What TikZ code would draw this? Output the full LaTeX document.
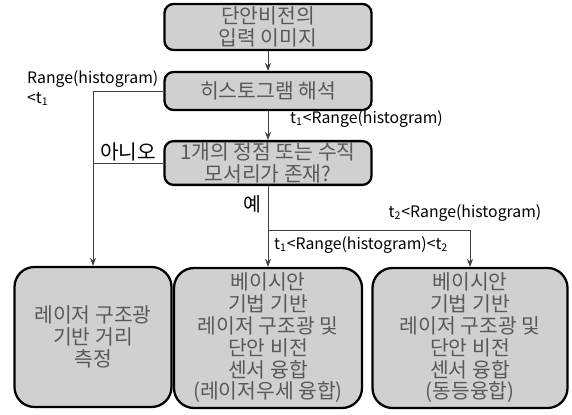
\documentclass[tikz,border=0pt]{standalone}
\usepackage{fontspec}
\setmainfont{Noto Sans CJK KR}
\usetikzlibrary{positioning,arrows.meta}
\definecolor{cbox}{RGB}{208,208,208}

\begin{document}
\begin{tikzpicture}[x=0.2mm,y=-0.2mm,font=\fontsize{11.6}{12.4}\selectfont,
  proc/.style={draw,line width=1.3pt,rounded corners=1.8mm,fill=cbox,text=black!65,align=center,minimum width=41.4mm,inner sep=1pt},
  res/.style={draw,line width=1.3pt,rounded corners=4mm,fill=cbox,text=black!65,align=center,minimum height=28mm,inner sep=1pt},
  flow/.style={-{Stealth[length=1.6mm,width=1.2mm]},black!75,thin},
  lbl/.style={font=\fontsize{9}{11}\selectfont,inner sep=1pt},
]
\useasboundingbox (0,0) rectangle (572,415);
\node[proc,minimum height=9.2mm] (input) at (268,27) {단안비전의\\입력 이미지};
\node[proc,minimum height=7.6mm] (hist) at (268,91) {히스토그램 해석};
\node[proc,minimum height=8.6mm] (vertex) at (268,163) {1개의 정점 또는 수직\\모서리가 존재?};
\node[res,minimum width=31.4mm] (laser) at (93,337) {레이저 구조광\\기반 거리\\측정};
\node[res,minimum width=37.6mm] (fuseA) at (268,338) {베이시안\\기법 기반\\레이저 구조광 및\\단안 비전\\센서 융합\\(레이저우세 융합)};
\node[res,minimum width=39mm] (fuseB) at (470,338) {베이시안\\기법 기반\\레이저 구조광 및\\단안 비전\\센서 융합\\(동등융합)};
\coordinate (split) at (268,230);
\draw[flow] (input) -- (hist);
\draw[flow] (hist) -- (vertex);
\draw[flow] (hist.west) -| (laser.north);
\draw[black!75,thin] (vertex.west) -- (vertex.west -| laser.north);
\draw[flow] (vertex) -- (fuseA);
\draw[flow] (split) -| (fuseB.north);
\node[lbl,align=left,anchor=west] (lowlbl) at (25,88) {Range(histogram)\\<t\textsubscript{1}};
\node[lbl,anchor=west] (highlbl) at (288,119) {t\textsubscript{1}<Range(histogram)};
\node[lbl,font=\fontsize{11.5}{12}\selectfont] (nolbl) at (128,152) {아니오};
\node[lbl,font=\fontsize{11}{12}\selectfont] (yeslbl) at (252,204) {예};
\node[lbl] (t2lbl) at (465,213) {t\textsubscript{2}<Range(histogram)};
\node[lbl,anchor=west] (midlbl) at (272,245) {t\textsubscript{1}<Range(histogram)<t\textsubscript{2}};
\end{tikzpicture}
\end{document}
